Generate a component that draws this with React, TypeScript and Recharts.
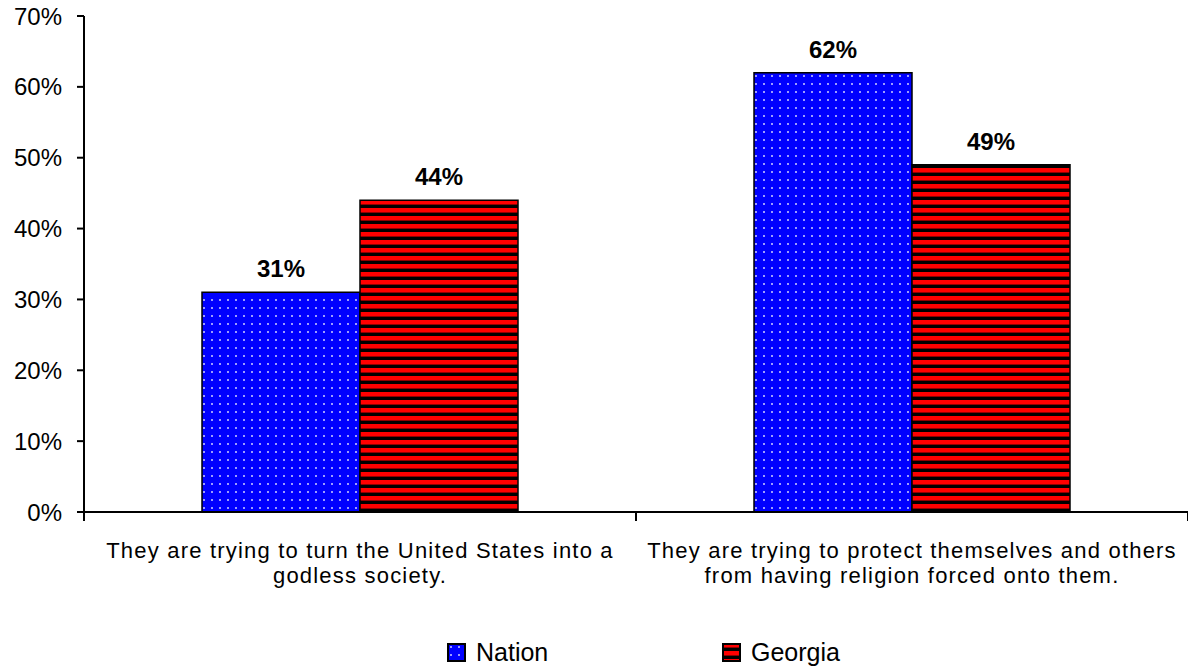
import { BarChart, Bar, XAxis, YAxis, LabelList } from "recharts";

const CATEGORIES = [
  "They are trying to turn the United States into a\ngodless society.",
  "They are trying to protect themselves and others\nfrom having religion forced onto them.",
];
const NATION = [31, 62];
const GEORGIA = [44, 49];
const Y_TICKS = [0, 10, 20, 30, 40, 50, 60, 70];
const EDGE_TICKS = [0, 1, 2];
const SERIES = [
  { key: "nation", label: "Nation", fill: "url(#dots)" },
  { key: "georgia", label: "Georgia", fill: "url(#stripes)" },
];

const data = CATEGORIES.map((name, i) => ({
  name,
  nation: NATION[i],
  georgia: GEORGIA[i],
  edge: i,
}));

const FONT = "Arial, 'Liberation Sans', sans-serif";

function PatternDefs() {
  return (
    <defs>
      <pattern id="dots" patternUnits="userSpaceOnUse" width={8} height={8}>
        <rect width={8} height={8} fill="#0000ff" />
        <rect x={3} y={3} width={2} height={2} fill="#9c9cff" />
      </pattern>
      <pattern id="stripes" patternUnits="userSpaceOnUse" width={8} height={8}>
        <rect width={8} height={8} fill="#000000" />
        <rect y={0} width={8} height={4} fill="#ff0000" />
        <rect y={4} width={8} height={1} fill="#900000" />
      </pattern>
    </defs>
  );
}

function CategoryTick(props: any) {
  const { x, y, payload } = props;
  const lines = String(payload.value).split("\n");
  return (
    <text
      x={x}
      y={y + 46}
      textAnchor="middle"
      fontSize={22}
      letterSpacing={1.2}
      fill="#000"
      fontFamily={FONT}
    >
      {lines.map((line, i) => (
        <tspan key={i} x={x} dy={i === 0 ? 0 : 25}>
          {line}
        </tspan>
      ))}
    </text>
  );
}

// boundary ticks only, no labels
const NoLabel = () => <g />;

function ChartLegend() {
  return (
    <div
      style={{
        position: "absolute",
        left: 0,
        top: 638,
        width: 1188,
        display: "flex",
        paddingLeft: 447,
        boxSizing: "border-box",
        fontFamily: FONT,
      }}
    >
      {SERIES.map((s) => (
        <div key={s.key} style={{ display: "flex", alignItems: "center", width: 275 }}>
          <svg width={20} height={20} style={{ marginRight: 9 }}>
            <rect x={1} y={1} width={17} height={17} fill={s.fill} stroke="#000" strokeWidth={2} />
          </svg>
          <span style={{ fontSize: 25, color: "#000" }}>{s.label}</span>
        </div>
      ))}
    </div>
  );
}

export default function App() {
  return (
    <div style={{ position: "absolute", left: 0, top: 0, width: 1188, height: 667, fontFamily: FONT, background: "#fff" }}>
      <BarChart
        width={1188}
        height={667}
        data={data}
        margin={{ top: 16, right: 0, bottom: 153, left: 0 }}
        barCategoryGap={118}
        barGap={0}
      >
        <PatternDefs />
        <XAxis
          xAxisId="cat"
          dataKey="name"
          interval={0}
          tickLine={false}
          tickSize={0}
          tickMargin={0}
          axisLine={{ stroke: "#000", strokeWidth: 2 }}
          tick={<CategoryTick />}
          height={1}
        />
        <XAxis
          xAxisId="edge"
          dataKey="edge"
          type="number"
          domain={[0, 2]}
          ticks={EDGE_TICKS}
          interval={0}
          allowDataOverflow
          tick={<NoLabel />}
          axisLine={false}
          tickSize={8}
          tickLine={{ stroke: "#000", strokeWidth: 2 }}
          height={1}
        />
        <YAxis
          width={84}
          domain={[0, 70]}
          ticks={Y_TICKS}
          tickFormatter={(v) => `${v}%`}
          tickSize={7}
          tickMargin={15}
          axisLine={{ stroke: "#000", strokeWidth: 2 }}
          tickLine={{ stroke: "#000", strokeWidth: 2 }}
          tick={{ fontSize: 24, fill: "#000", fontFamily: FONT }}
        />
        {SERIES.map((s) => (
          <Bar
            key={s.key}
            xAxisId="cat"
            dataKey={s.key}
            name={s.label}
            fill={s.fill}
            stroke="#000"
            strokeWidth={1.5}
            isAnimationActive={false}
          >
            <LabelList
              dataKey={s.key}
              position="top"
              offset={15}
              formatter={(v: any) => `${v}%`}
              style={{ fontSize: 24, fontWeight: "bold", fill: "#000", fontFamily: FONT }}
            />
          </Bar>
        ))}
      </BarChart>
      <ChartLegend />
    </div>
  );
}
